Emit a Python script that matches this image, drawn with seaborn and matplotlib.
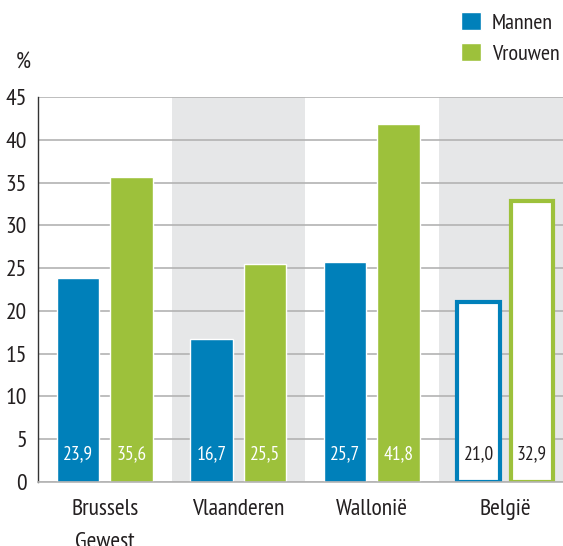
import matplotlib
matplotlib.use("Agg")
import matplotlib.pyplot as plt
import seaborn as sns
import pandas as pd

# ---- data ----
regions = ["Brussels\nGewest", "Vlaanderen", "Wallonië", "België"]
mannen = [23.9, 16.7, 25.7, 21.0]
vrouwen = [35.6, 25.5, 41.8, 32.9]
series = ["Mannen", "Vrouwen"]
yticks = [0, 5, 10, 15, 20, 25, 30, 35, 40, 45]

BLUE = "#0080BA"
GREEN = "#9DC13B"
BAND = "#E6E7E8"
GRID = "#B3B3B3"
TXT = "#231F20"

sns.set_style("white")
plt.rcParams["font.family"] = ["PT Sans Narrow", "DejaVu Sans"]

df = pd.DataFrame({
    "regio": regions * 2,
    "geslacht": [series[0]] * 4 + [series[1]] * 4,
    "waarde": mannen + vrouwen,
})

fig = plt.figure(figsize=(5.63, 5.46), dpi=100)
W, H = 563, 546
left, right, top, bottom = 38, 563, 97, 482
ax = fig.add_axes([left / W, (H - bottom) / H, (right - left) / W, (bottom - top) / H])

# background bands
for c in (1, 3):
    ax.axvspan(c - 0.5, c + 0.5, color=BAND, zorder=0, lw=0)

sns.barplot(data=df, x="regio", y="waarde", hue="geslacht", order=regions,
            hue_order=series, palette=[BLUE, GREEN], width=0.8, gap=0.2,
            saturation=1, ax=ax, legend=True, zorder=2)

ax.set_xlim(-0.5, (right - left) / 133.5 - 0.5)
ax.set_ylim(0, 45)
ax.set_yticks(yticks)
ax.set_yticklabels([str(t) for t in yticks])
ax.set_axisbelow(True)
ax.yaxis.grid(True, color=GRID, lw=1.2, zorder=0.5)
ax.xaxis.grid(False)
ax.set_xlabel("")
ax.set_ylabel("")

for s in ("top", "right"):
    ax.spines[s].set_visible(False)
ax.spines["left"].set_color("#333333")
ax.spines["left"].set_linewidth(1.0)
ax.spines["bottom"].set_color(GRID)
ax.spines["bottom"].set_linewidth(1.2)

ax.tick_params(axis="y", length=0, pad=8, labelsize=17, labelcolor=TXT)
ax.tick_params(axis="x", length=0, pad=12, labelsize=17, labelcolor=TXT)
ax.set_xticks(range(len(regions)))
ax.set_xticklabels(regions, linespacing=1.75)

# Belgium bars outlined, value labels
colors = [BLUE, GREEN]
for ci, cont in enumerate(ax.containers):
    for bi, bar in enumerate(cont):
        val = bar.get_height()
        xc = bar.get_x() + bar.get_width() / 2
        if bi == 3:
            bar.set_facecolor("white")
            bar.set_edgecolor(colors[ci])
            bar.set_linewidth(3.0)
            tc = TXT
        else:
            tc = "white"
        ax.text(xc, 3.3, f"{val:.1f}".replace(".", ","), ha="center", va="center",
                fontsize=14, color=tc, zorder=5)

# legend
handles, labels = ax.get_legend_handles_labels()
ax.legend(handles, labels, loc="upper left",
          bbox_to_anchor=(461 / W, 1 - 12 / H), bbox_transform=fig.transFigure,
          frameon=False, fontsize=16, handlelength=0.9, handleheight=0.9,
          handletextpad=0.5, labelspacing=0.45, borderpad=0, borderaxespad=0,
          labelcolor=TXT)

fig.text(23 / W, 1 - 63 / H, "%", ha="center", va="center", fontsize=17, color=TXT)

fig.savefig("out.png", dpi=100)
